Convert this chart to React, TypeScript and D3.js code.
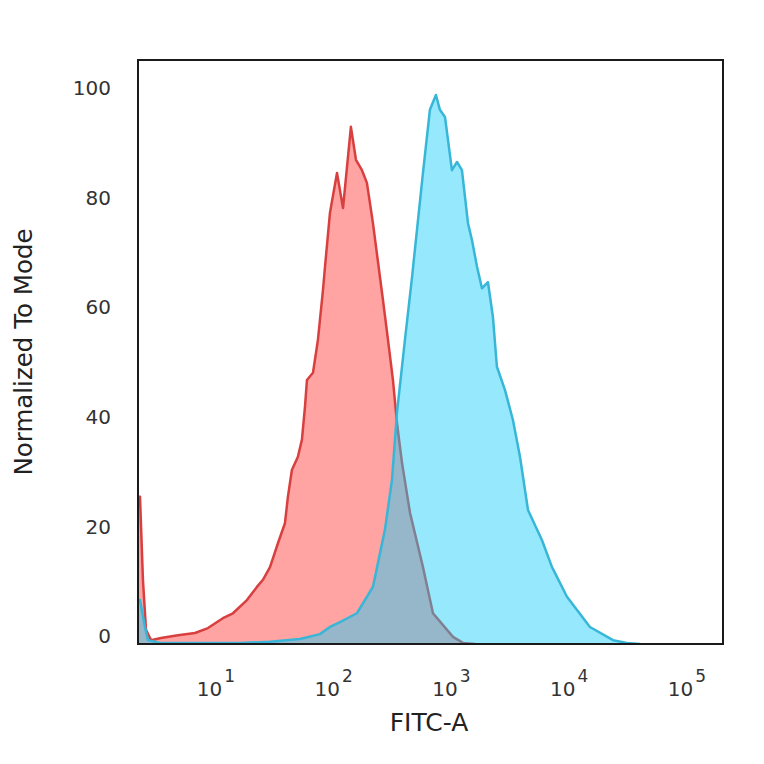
import React from 'react';
import * as d3 from 'd3';

// Histogram series: x as log10(FITC-A), y as % of mode
const redLogX = [0.338, 0.355, 0.380, 0.406, 0.448, 0.533, 0.677, 0.822, 0.932, 1.059, 1.144, 1.263, 1.348, 1.399, 1.459, 1.527, 1.586, 1.611, 1.645, 1.696, 1.730, 1.756, 1.773, 1.824, 1.866, 1.909, 1.926, 1.968, 2.028, 2.079, 2.146, 2.189, 2.240, 2.282, 2.333, 2.393, 2.418, 2.461, 2.503, 2.537, 2.580, 2.648, 2.758, 2.843, 3.013, 3.098, 3.200];
const redCount = [26.8, 26.8, 11.7, 2.6, 0.7, 1.1, 1.6, 2.0, 2.9, 4.7, 5.6, 8.0, 10.4, 11.7, 14.0, 18.4, 22.0, 26.8, 31.7, 34.1, 37.2, 43.2, 48.1, 49.4, 55.4, 64.5, 68.7, 78.5, 85.8, 79.4, 94.2, 88.2, 86.3, 84.0, 76.7, 66.8, 62.7, 55.4, 48.1, 40.3, 33.0, 23.9, 14.0, 5.6, 1.3, 0.2, 0];

const blueLogX = [0.338, 0.355, 0.397, 0.423, 0.524, 1.204, 1.459, 1.713, 1.883, 1.968, 2.053, 2.197, 2.333, 2.435, 2.495, 2.537, 2.605, 2.665, 2.707, 2.758, 2.817, 2.868, 2.902, 2.945, 3.004, 3.047, 3.089, 3.140, 3.174, 3.217, 3.259, 3.310, 3.352, 3.386, 3.454, 3.522, 3.582, 3.650, 3.769, 3.854, 3.981, 4.176, 4.372, 4.490, 4.601];
const blueCount = [8.0, 8.0, 3.1, 0.7, 0.2, 0.2, 0.4, 0.9, 1.8, 3.1, 4.0, 5.6, 10.4, 20.8, 29.9, 42.1, 55.4, 66.8, 75.4, 85.8, 97.3, 100, 97.3, 96.0, 86.3, 87.8, 86.3, 76.7, 73.6, 68.7, 64.8, 65.9, 59.6, 50.5, 46.3, 40.8, 34.1, 24.4, 18.9, 14.0, 8.6, 3.1, 0.7, 0.2, 0];

const yTicks = [0, 20, 40, 60, 80, 100];
const xDecades = [1, 2, 3, 4, 5];

const FONT = '"DejaVu Sans", Verdana, sans-serif';

export default function App() {
  const W = 764, H = 764;
  const left = 138, right = 723, top = 60, bottom = 644;

  const x = d3.scaleLog().domain([Math.pow(10, 0.338), Math.pow(10, 5.306)]).range([left, right]);
  const y = d3.scaleLinear().domain([0, 100]).range([bottom, 95]);
  const yLabel = d3.scaleLinear().domain([0, 100]).range([636, 88]);

  const red: [number, number][] = redLogX.map((v, i) => [v, redCount[i]]);
  const blue: [number, number][] = blueLogX.map((v, i) => [v, blueCount[i]]);

  const area = d3.area<[number, number]>()
    .x(d => x(Math.pow(10, d[0])))
    .y0(bottom)
    .y1(d => y(d[1]));
  const line = d3.line<[number, number]>()
    .x(d => x(Math.pow(10, d[0])))
    .y(d => y(d[1]));

  return (
    <svg width={W} height={H} style={{ position: 'absolute', left: 0, top: 0, background: '#fff' }}>
      <defs>
        <clipPath id="plotClip">
          <rect x={left} y={top} width={right - left} height={bottom - top} />
        </clipPath>
      </defs>
      <rect x={0} y={0} width={W} height={H} fill="#fff" />
      <g clipPath="url(#plotClip)">
        <path d={area(red) || ''} fill="#ffa3a3" />
        <path d={line(red) || ''} fill="none" stroke="#d8403f" strokeWidth={2.5} strokeLinejoin="round" />
        <path d={area(blue) || ''} fill="rgb(22,206,248)" fillOpacity={0.45} />
        <path d={line(blue) || ''} fill="none" stroke="#38b6d8" strokeWidth={2.5} strokeLinejoin="round" />
      </g>
      <rect x={left} y={top} width={right - left} height={bottom - top} fill="none" stroke="#1a1a1a" strokeWidth={2} />
      {yTicks.map(t => (
        <text key={t} x={111} y={yLabel(t)} dy="0.36em" textAnchor="end" fontFamily={FONT} fontSize={20} fill="#333">{t}</text>
      ))}
      {xDecades.map(d => (
        <text key={d} x={x(Math.pow(10, d))} y={696} textAnchor="middle" fontFamily={FONT} fontSize={20} fill="#333">
          10<tspan fontSize={17} dx={2} dy={-14}>{d}</tspan>
        </text>
      ))}
      <text x={429} y={731} textAnchor="middle" fontFamily={FONT} fontSize={25} fill="#222">FITC-A</text>
      <text transform="translate(32,352) rotate(-90)" textAnchor="middle" fontFamily={FONT} fontSize={24.5} fill="#222">Normalized To Mode</text>
    </svg>
  );
}
